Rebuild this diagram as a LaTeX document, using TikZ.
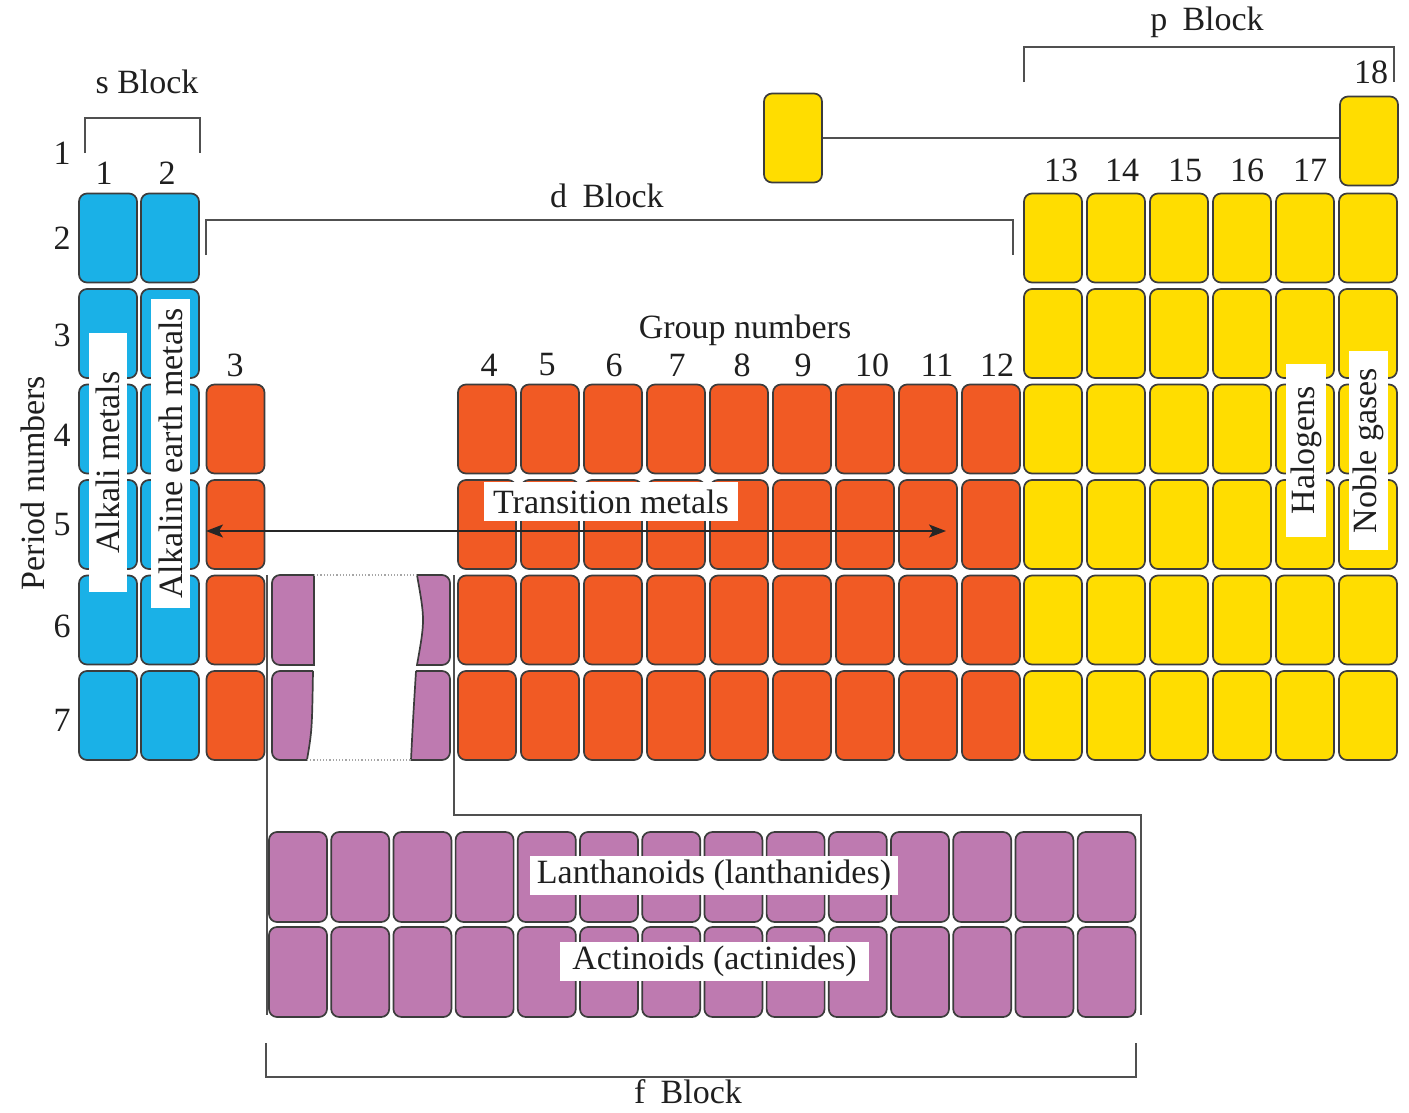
\documentclass[tikz,border=0pt]{standalone}
\usepackage{fontspec}
\setmainfont{Liberation Serif}
\usetikzlibrary{arrows.meta}
\definecolor{sblue}{HTML}{1AB1E7}
\definecolor{dorange}{HTML}{F15A24}
\definecolor{pyellow}{HTML}{FFDD00}
\definecolor{fpurple}{HTML}{BE7AB0}
\definecolor{edge}{HTML}{3C3C3C}
\definecolor{brk}{HTML}{505050}
\tikzset{
  cell/.style={draw=edge, line width=1.7pt, rounded corners=8pt, minimum width=58pt, minimum height=89pt, inner sep=0pt},
  piece/.style={draw=edge, line width=1.7pt, fill=fpurple},
  brack/.style={draw=brk, line width=1.6pt},
  lbl/.style={font=\fontsize{34}{40}\selectfont, inner sep=0pt, text=black!88},
  wbox/.style={lbl, fill=white, inner sep=0pt},
  dotl/.style={draw=gray!70, line width=1.2pt, dotted}
}
\begin{document}
\begin{tikzpicture}[x=1pt,y=-1pt]
\useasboundingbox (0,0) rectangle (1409,1112);
% s block cells
\foreach \r/\y in {2/238,3/333.5,4/429,5/524.5,6/620,7/715.5}{
  \node[cell, fill=sblue] (s1r\r) at (108,\y) {};
  \node[cell, fill=sblue] (s2r\r) at (170,\y) {};
}
% group 3
\foreach \r/\y in {4/429,5/524.5,6/620,7/715.5}{
  \node[cell, fill=dorange] (g3r\r) at (235.5,\y) {};
}
% groups 4-12
\foreach \g in {4,...,12}{
  \foreach \r/\y in {4/429,5/524.5,6/620,7/715.5}{
    \node[cell, fill=dorange] (g\g r\r) at ({487+63*(\g-4)},\y) {};
  }
}
% groups 13-18
\foreach \g in {13,...,18}{
  \foreach \r/\y in {2/238,3/333.5,4/429,5/524.5,6/620,7/715.5}{
    \node[cell, fill=pyellow] (g\g r\r) at ({1053+63*(\g-13)},\y) {};
  }
}
% H and He
\node[cell, fill=pyellow] (H) at (793,138) {};
\node[cell, fill=pyellow] (He) at (1369,141) {};
\draw[brack] (H.east) -- (H.east -| He.west);
% f block placeholder in main table
\draw[piece] (314,575) [rounded corners=8pt] -- (272,575) -- (272,665) [sharp corners] -- (314,665) -- cycle;
\draw[piece] (313,671) [rounded corners=8pt] -- (272,671) -- (272,760) [sharp corners] -- (307,760) .. controls (312,730) .. (313,671);
\draw[piece] (417,575) [rounded corners=8pt] -- (450,575) -- (450,665) [sharp corners] -- (417,665) .. controls (425,620) .. (417,575);
\draw[piece] (416,671) [rounded corners=8pt] -- (450,671) -- (450,760) [sharp corners] -- (411,760) .. controls (413,720) .. (416,671);
\draw[dotl] (314,575) -- (417,575);
\draw[dotl] (307,760) -- (411,760);
% f block rows
\foreach \i in {0,...,13}{
  \node[cell, fill=fpurple, minimum height=90pt] (la\i) at ({298+62.2*\i},877) {};
  \node[cell, fill=fpurple, minimum height=90pt] (ac\i) at ({298+62.2*\i},972) {};
}
% connector lines to f block
\coordinate (fl1) at (267,575);
\coordinate (fl2) at (267,1015);
\draw[brack] (fl1) -- (fl2);
\coordinate (fr1) at (454,575);
\coordinate (fr2) at (1141,1015);
\draw[brack] (fr1) -- (454,815) -- (1141,815) -- (fr2);
% brackets
\draw[brack] (85,153) -- (85,118) -- (200,118) -- (200,153);
\draw[brack] (206,255) -- (206,220) -- (1013,220) -- (1013,255);
\draw[brack] (1024,82) -- (1024,47) -- (1394,47) -- (1394,82);
\draw[brack] (266,1043) -- (266,1077) -- (1136,1077) -- (1136,1043);
% block labels
\node[lbl] (sb) at (147,82) {s Block};
\node[lbl] (db) at (607,196) {d\hspace{0.45em}Block};
\node[lbl] (pb) at (1207,22) {p\hspace{0.45em}Block};
\node[lbl] (fb) at (688,1092) {f\hspace{0.45em}Block};
\node[lbl] (gn) at (745,330) {Group numbers};
% period numbers
\foreach \n/\y in {1/153,2/238,3/335,4/435,5/525,6/626,7/720}{
  \node[lbl] (p\n) at (62,\y) {\n};
}
\node[lbl, rotate=90] (pn) at (33,483) {Period numbers};
% group numbers
\node[lbl] (n1) at (104,173) {1};
\node[lbl] (n2) at (167,173) {2};
\node[lbl] (n3) at (235,365) {3};
\foreach \g/\x in {4/489,5/547,6/614,7/677,8/742,9/803,10/872,11/937,12/997}{
  \node[lbl] (n\g) at (\x,365) {\g};
}
\foreach \g/\x in {13/1061,14/1122,15/1185,16/1247,17/1310}{
  \node[lbl] (n\g) at (\x,170) {\g};
}
\node[lbl] (n18) at (1371,72) {18};
% arrow
\coordinate (al) at (206,531);
\coordinate (ar) at (946,531);
\draw[line width=1.5pt, black!85, {Stealth[length=17pt,width=13pt,inset=4pt]}-{Stealth[length=17pt,width=13pt,inset=4pt]}] (al) -- (ar);
% white labels
\node[wbox, minimum width=254pt, minimum height=39pt] (tm) at (611,501.5) {Transition metals};
\node[wbox, rotate=90, minimum width=259pt, minimum height=38pt] (am) at (108,462.5) {Alkali metals};
\node[wbox, rotate=90, minimum width=309pt, minimum height=39pt] (aem) at (170.5,453.5) {Alkaline earth metals};
\node[wbox, rotate=90, minimum width=173pt, minimum height=40pt] (hal) at (1306,450) {Halogens};
\node[wbox, rotate=90, minimum width=199pt, minimum height=39pt] (ng) at (1368.5,450.5) {Noble gases};
\node[wbox, minimum width=368pt, minimum height=39pt] (lan) at (714,875.5) {Lanthanoids (lanthanides)};
\node[wbox, minimum width=309pt, minimum height=39pt] (act) at (714.5,961.5) {Actinoids (actinides)};
\end{tikzpicture}
\end{document}
